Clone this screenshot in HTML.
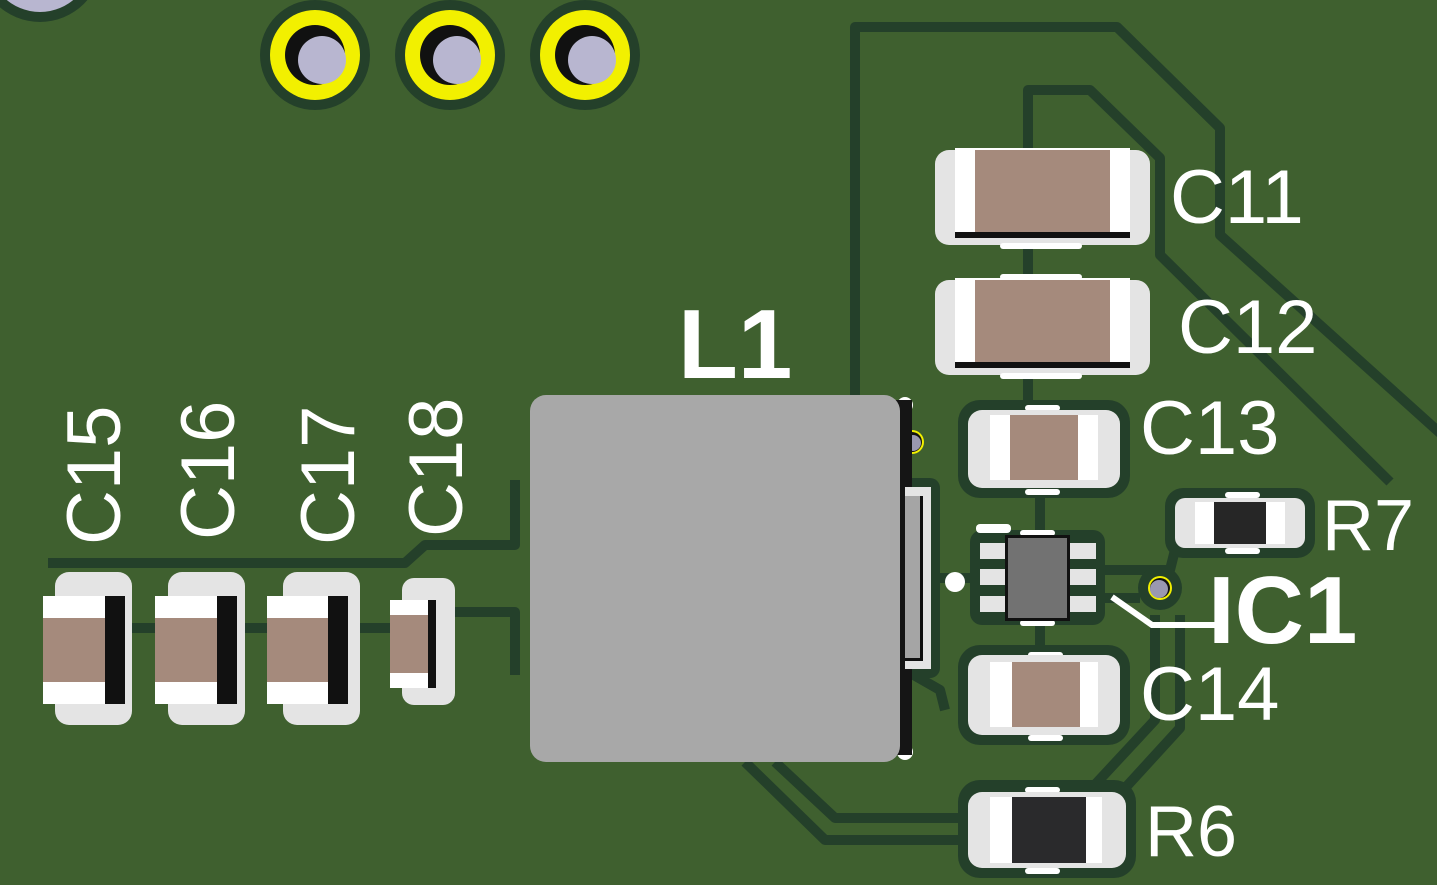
<!DOCTYPE html>
<html><head><style>
html,body{margin:0;padding:0;background:#3f602f;width:1437px;height:885px;overflow:hidden}
svg text{font-family:"Liberation Sans",sans-serif;fill:#fff;}
</style></head><body>
<svg width="1437" height="885" viewBox="0 0 1437 885" xmlns="http://www.w3.org/2000/svg">
<rect width="1437" height="885" fill="#3f602f"/>
<!-- clearance lines -->
<g fill="none" stroke="#24402a" stroke-width="10" stroke-linejoin="round">
<polyline points="855,395 855,27 1117,27 1220,128 1220,235 1450,442"/>
<polyline points="1028,420 1028,90 1090,90 1160,158 1160,255 1390,482"/>
<polyline points="48,563 405,563 425,545 515,545 515,480"/>
<polyline points="125,628 440,628 452,612 515,612 515,675"/>
<polyline points="745,762 825,840 970,840"/>
<polyline points="775,762 835,818 970,818"/>
<polyline points="905,670 940,690 945,710"/>
<polyline points="1155,615 1155,720 1090,790"/>
<polyline points="1180,615 1180,728 1105,810"/>
<polyline points="930,578 980,578"/>
<polyline points="1095,570 1170,570 1175,550"/>
<polyline points="1095,598 1140,598"/>
<polyline points="1040,490 1040,535"/>
<polyline points="1040,620 1040,655"/>
</g>
<!-- pad clearances -->
<g fill="#24402a">
<rect x="958" y="400" width="172" height="98" rx="22"/>
<rect x="958" y="645" width="172" height="100" rx="22"/>
<rect x="958" y="780" width="178" height="98" rx="22"/>
<rect x="1165" y="488" width="150" height="70" rx="18"/>
<rect x="970" y="530" width="135" height="95" rx="12"/>
<rect x="895" y="478" width="45" height="200" rx="10"/>
</g>
<!-- top-left partial -->
<circle cx="40" cy="-40" r="62" fill="#24402a"/>
<circle cx="40" cy="-40" r="52" fill="#b8b6d0"/>
<!-- vias -->
<g>
<circle cx="315" cy="55" r="55" fill="#24402a"/><circle cx="315" cy="55" r="45" fill="#f2f000"/><circle cx="315" cy="55" r="30" fill="#111"/><circle cx="322" cy="60" r="24" fill="#b8b6d0"/>
<circle cx="450" cy="55" r="55" fill="#24402a"/><circle cx="450" cy="55" r="45" fill="#f2f000"/><circle cx="450" cy="55" r="30" fill="#111"/><circle cx="457" cy="60" r="24" fill="#b8b6d0"/>
<circle cx="585" cy="55" r="55" fill="#24402a"/><circle cx="585" cy="55" r="45" fill="#f2f000"/><circle cx="585" cy="55" r="30" fill="#111"/><circle cx="592" cy="60" r="24" fill="#b8b6d0"/>
</g>
<!-- C11 -->
<rect x="935" y="150" width="215" height="95" rx="14" fill="#e4e4e4"/>
<rect x="955" y="148" width="175" height="90" fill="#fff"/><rect x="975" y="150" width="135" height="86" fill="#a58a7c"/>
<rect x="955" y="232" width="175" height="6" fill="#111"/>
<rect x="1000" y="243" width="82" height="6" rx="3" fill="#fff"/>
<!-- C12 -->
<rect x="1000" y="274" width="82" height="6" rx="3" fill="#fff"/>
<rect x="935" y="280" width="215" height="95" rx="14" fill="#e4e4e4"/>
<rect x="955" y="278" width="175" height="90" fill="#fff"/><rect x="975" y="280" width="135" height="86" fill="#a58a7c"/>
<rect x="955" y="362" width="175" height="6" fill="#111"/>
<rect x="1000" y="373" width="82" height="6" rx="3" fill="#fff"/>
<!-- C13 -->
<rect x="1025" y="405" width="35" height="6" rx="3" fill="#fff"/>
<rect x="968" y="410" width="152" height="78" rx="14" fill="#e4e4e4"/>
<rect x="990" y="415" width="108" height="65" fill="#fff"/><rect x="1010" y="415" width="68" height="65" fill="#a58a7c"/>
<rect x="1025" y="489" width="35" height="6" rx="3" fill="#fff"/>
<!-- C14 -->
<rect x="1028" y="652" width="35" height="6" rx="3" fill="#fff"/>
<rect x="968" y="655" width="152" height="80" rx="14" fill="#e4e4e4"/>
<rect x="990" y="662" width="108" height="65" fill="#fff"/><rect x="1012" y="662" width="68" height="65" fill="#a58a7c"/>
<rect x="1028" y="735" width="35" height="6" rx="3" fill="#fff"/>
<!-- R6 -->
<rect x="1025" y="787" width="35" height="6" rx="3" fill="#fff"/>
<rect x="968" y="792" width="158" height="76" rx="14" fill="#e4e4e4"/>
<rect x="990" y="797" width="112" height="66" fill="#fff"/><rect x="1012" y="797" width="74" height="66" fill="#2a2a2c"/>
<rect x="1025" y="868" width="35" height="6" rx="3" fill="#fff"/>
<!-- R7 -->
<rect x="1225" y="492" width="35" height="6" rx="3" fill="#fff"/>
<rect x="1175" y="498" width="130" height="50" rx="10" fill="#e4e4e4"/>
<rect x="1195" y="502" width="90" height="42" fill="#fff"/><rect x="1214" y="502" width="52" height="42" fill="#262626"/>
<rect x="1225" y="548" width="35" height="6" rx="3" fill="#fff"/>
<!-- IC1 -->
<rect x="976" y="524" width="35" height="9" rx="4" fill="#fff"/>
<rect x="1020" y="530" width="35" height="6" rx="3" fill="#fff"/>
<rect x="1020" y="620" width="35" height="6" rx="3" fill="#fff"/>
<g fill="#e4e4e4">
<rect x="980" y="543" width="28" height="16"/><rect x="980" y="569" width="28" height="16"/><rect x="980" y="596" width="28" height="16"/>
<rect x="1068" y="543" width="28" height="16"/><rect x="1068" y="569" width="28" height="16"/><rect x="1068" y="596" width="28" height="16"/>
</g>
<rect x="1005" y="535" width="65" height="86" fill="#111"/>
<rect x="1008" y="538" width="59" height="80" fill="#727272"/>
<circle cx="955" cy="582" r="10" fill="#fff"/>
<circle cx="1160" cy="588" r="22" fill="#24402a"/>
<circle cx="1160" cy="588" r="12" fill="#f2f000"/><circle cx="1160" cy="588" r="10" fill="#111"/><circle cx="1159" cy="589" r="9" fill="#9a98b0"/>
<polyline points="1112,597 1152,625 1215,625" fill="none" stroke="#fff" stroke-width="6"/>
<!-- L1 -->
<circle cx="905" cy="405" r="8" fill="#fff"/><circle cx="905" cy="752" r="8" fill="#fff"/>
<circle cx="912" cy="442" r="12" fill="#f2f000"/><circle cx="912" cy="442" r="10" fill="#111"/><circle cx="913" cy="443" r="8" fill="#9a98b0"/>
<rect x="895" y="400" width="17" height="355" fill="#151515"/>
<rect x="905" y="487" width="26" height="182" fill="#e4e4e4"/>
<rect x="905" y="496" width="18" height="165" fill="#111"/>
<rect x="905" y="496" width="15" height="162" fill="#a5a5a5"/>
<rect x="530" y="395" width="370" height="367" rx="16" fill="#a8a8a8"/>
<!-- C15-C18 -->
<g>
<rect x="55" y="572" width="77" height="153" rx="14" fill="#e4e4e4"/>
<rect x="43" y="596" width="82" height="108" fill="#fff"/><rect x="43" y="618" width="82" height="64" fill="#a58a7c"/><rect x="105" y="596" width="20" height="108" fill="#111"/>
<rect x="168" y="572" width="77" height="153" rx="14" fill="#e4e4e4"/>
<rect x="155" y="596" width="82" height="108" fill="#fff"/><rect x="155" y="618" width="82" height="64" fill="#a58a7c"/><rect x="217" y="596" width="20" height="108" fill="#111"/>
<rect x="283" y="572" width="77" height="153" rx="14" fill="#e4e4e4"/>
<rect x="267" y="596" width="80" height="108" fill="#fff"/><rect x="267" y="618" width="80" height="64" fill="#a58a7c"/><rect x="328" y="596" width="20" height="108" fill="#111"/>
<rect x="402" y="578" width="53" height="127" rx="12" fill="#e4e4e4"/>
<rect x="390" y="600" width="46" height="88" fill="#fff"/><rect x="390" y="615" width="46" height="58" fill="#a58a7c"/><rect x="428" y="600" width="8" height="88" fill="#111"/>
</g>
<!-- labels -->
<text x="678" y="378" font-size="98" font-weight="bold">L1</text>
<text x="1170" y="223" font-size="76">C11</text>
<text x="1178" y="353" font-size="76">C12</text>
<text x="1140" y="454" font-size="76">C13</text>
<text x="1140" y="720" font-size="76">C14</text>
<text x="1322" y="550" font-size="72">R7</text>
<text x="1145" y="856" font-size="72">R6</text>
<text x="1208" y="643" font-size="96" font-weight="bold">IC1</text>
<text transform="translate(120,545) rotate(-90)" font-size="76">C15</text>
<text transform="translate(234,540) rotate(-90)" font-size="76">C16</text>
<text transform="translate(354,545) rotate(-90)" font-size="76">C17</text>
<text transform="translate(462,537) rotate(-90)" font-size="76">C18</text>
</svg>
</body></html>
